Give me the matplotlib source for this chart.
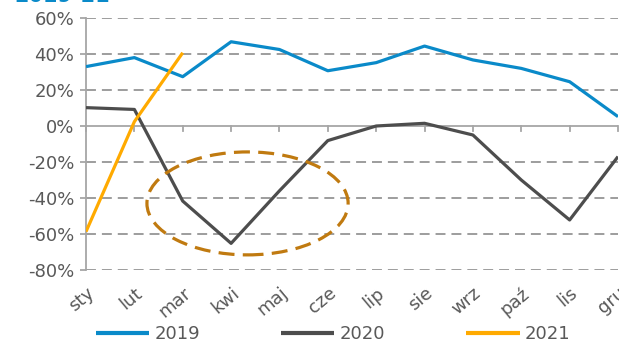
import matplotlib
matplotlib.use("Agg")
import matplotlib.pyplot as plt
from matplotlib.patches import Ellipse
import numpy as np

months = ["sty", "lut", "mar", "kwi", "maj", "cze", "lip", "sie", "wrz", "paź", "lis", "gru"]
s2019 = [33, 38, 27.4, 46.8, 42.5, 30.7, 35.2, 44.4, 36.7, 32, 24.6, 5.2]
s2020 = [10.2, 9.2, -41.7, -65.2, -36, -8.1, 0, 1.5, -5, -30, -52.2, -17]
s2021 = [-58.7, 2.4, 40.7]
yticks = [-80, -60, -40, -20, 0, 20, 40, 60]
title = "2019-21"

W, H = 619, 342
fig = plt.figure(figsize=(W / 100, H / 100), dpi=100)
ax = fig.add_axes([86 / W, 1 - 270 / H, (618 - 86) / W, (270 - 18) / H])

c19, c20, c21 = "#0A8AC9", "#4D4D4D", "#FFAA00"
tcol = "#595959"
x = np.arange(len(months))

for v in yticks:
    if v != 0:
        ax.axhline(v, color="#959595", lw=1.3, ls=(0, (5.5, 3.3)), zorder=1)
ax.axhline(0, color="#A6A6A6", lw=1.3, zorder=1)
for xi in x:
    ax.plot([xi, xi], [0, -2.8], color="#A6A6A6", lw=1.3, zorder=1, clip_on=False)

ax.plot(x, s2019, color=c19, lw=2.3, label="2019", zorder=3, solid_capstyle="butt")
ax.plot(x, s2020, color=c20, lw=2.3, label="2020", zorder=3, solid_capstyle="butt")
ax.plot(x[:len(s2021)], s2021, color=c21, lw=2.3, label="2021", zorder=3, solid_capstyle="butt")

ell = Ellipse((3.34, -43), 4.16, 57.2, fill=False, edgecolor="#C07A10", lw=2.3,
              ls=(0, (5, 2.6)), zorder=4)
ax.add_patch(ell)

ax.set_xlim(0, 11)
ax.set_ylim(-80, 60)
ax.set_yticks(yticks)
ax.set_yticklabels([f"{v}%" for v in yticks], color=tcol, fontsize=13)
ax.set_xticks(x)
ax.set_xticklabels(months, color=tcol, fontsize=13, rotation=40, ha="right",
                   rotation_mode="anchor")
ax.tick_params(axis="x", length=0, pad=10)
ax.tick_params(axis="y", length=4.5, color="#A6A6A6", width=1.3, pad=4)
for s in ["top", "right", "bottom"]:
    ax.spines[s].set_visible(False)
ax.spines["left"].set_color("#A6A6A6")
ax.spines["left"].set_linewidth(1.3)
ax.set_facecolor("none")

fig.text(14 / W, 1 - 2 / H, title, color="#0A8AC9", fontsize=15, fontweight="bold",
         va="baseline", ha="left")

leg = fig.legend(loc="center left", bbox_to_anchor=(96 / W, 1 - 334 / H), ncol=3,
                 frameon=False, fontsize=13, handlelength=2.95, handletextpad=0.28,
                 columnspacing=4.5, borderaxespad=0, borderpad=0)
for t in leg.get_texts():
    t.set_color(tcol)
for l in leg.get_lines():
    l.set_linewidth(3)

fig.savefig("out.png", dpi=100)
